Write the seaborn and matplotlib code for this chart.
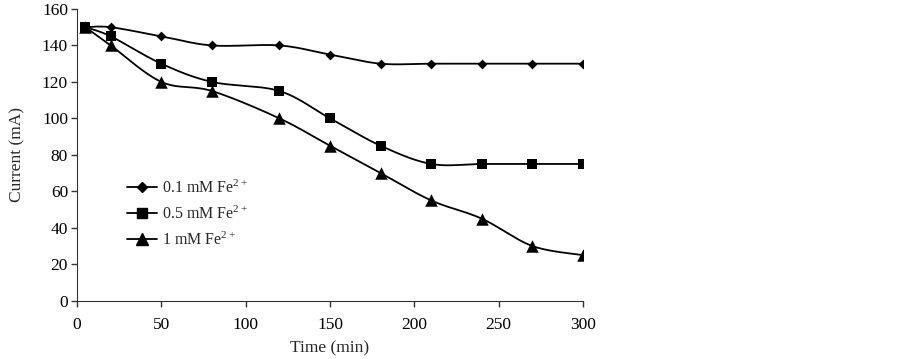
import numpy as np
import pandas as pd
import seaborn as sns
import matplotlib.pyplot as plt
from matplotlib.lines import Line2D

sns.set_style('ticks')
plt.rcParams['font.family'] = ['Liberation Serif', 'DejaVu Serif']
plt.rcParams['mathtext.fontset'] = 'custom'
plt.rcParams['mathtext.rm'] = 'Liberation Serif'
plt.rcParams['mathtext.it'] = 'Liberation Serif:italic'

# data
time_min = [5, 20, 50, 80, 120, 150, 180, 210, 240, 270, 300]
fe_01 = [150, 150, 145, 140, 140, 135, 130, 130, 130, 130, 130]
fe_05 = [150, 145, 130, 120, 115, 100, 85, 75, 75, 75, 75]
fe_1 = [150, 140, 120, 115, 100, 85, 70, 55, 45, 30, 25]

series = [
    ('0.1 mM Fe$^{2+}$', fe_01, 'D', 5),
    ('0.5 mM Fe$^{2+}$', fe_05, 's', 7),
    ('1 mM Fe$^{2+}$', fe_1, '^', 9),
]


def smooth(x, y, n=30):
    # excel-like smoothed line (bezier through the points)
    p = np.column_stack([x, y]).astype(float)
    pts = np.vstack([p[0], p, p[-1]])
    out = []
    t = np.linspace(0, 1, n)[:, None]
    for i in range(1, len(pts) - 2):
        p0, p3 = pts[i], pts[i + 1]
        p1 = p0 + (pts[i + 1] - pts[i - 1]) / 6
        p2 = p3 - (pts[i + 2] - pts[i]) / 6
        seg = (1 - t) ** 3 * p0 + 3 * (1 - t) ** 2 * t * p1 + 3 * (1 - t) * t ** 2 * p2 + t ** 3 * p3
        out.append(seg if i == 1 else seg[1:])
    out = np.vstack(out)
    return out[:, 0], out[:, 1]


fig = plt.figure(figsize=(9.02, 3.59), dpi=100)
ax = fig.add_axes([0.0854, 0.1624, 0.5609, 0.8126])

handles = []
for label, vals, mk, ms in series:
    sx, sy = smooth(time_min, vals)
    curve = pd.DataFrame({'t': sx, 'c': sy})
    sns.lineplot(data=curve, x='t', y='c', ax=ax, color='black', lw=1.3,
                 sort=False, estimator=None)
    pts = pd.DataFrame({'t': time_min, 'c': vals})
    sns.scatterplot(data=pts, x='t', y='c', ax=ax, color='black', marker=mk,
                    s=ms ** 2, edgecolor='black', linewidth=0, zorder=3)
    handles.append(Line2D([], [], color='black', lw=1.3, marker=mk, markersize=ms, label=label))

ax.set_xlim(0, 300)
ax.set_ylim(0, 160)
ax.set_xticks(range(0, 301, 50))
ax.set_yticks(range(0, 161, 20))
ax.tick_params(direction='out', length=4.5, width=1, colors='#333333', labelcolor='black', labelsize=12.5)
ax.tick_params(axis='x', pad=7)
ax.tick_params(axis='y', pad=2)
for s in ['top', 'right']:
    ax.spines[s].set_visible(False)
for s in ['left', 'bottom']:
    ax.spines[s].set_color('#333333')
ax.set_xlabel('Time (min)', fontsize=12.5)
ax.set_ylabel('Current (mA)', fontsize=12.5)
ax.xaxis.set_label_coords(0.5, -0.135)
ax.yaxis.set_label_coords(-0.103, 0.5)

ax.legend(handles=handles, loc='upper left', bbox_to_anchor=(0.07, 0.465), frameon=False,
          fontsize=11.5, handlelength=1.9, handletextpad=0.3, labelspacing=0.55)

fig.savefig('out.png', dpi=100)
